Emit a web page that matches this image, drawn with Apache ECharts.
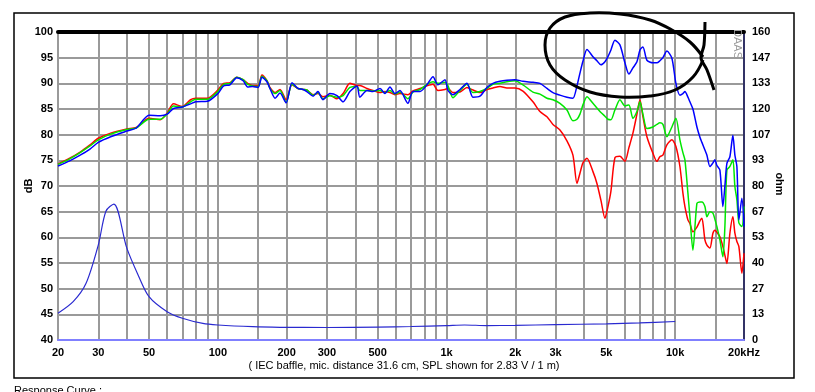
<!DOCTYPE html>
<html><head><meta charset="utf-8">
<script src="https://cdn.jsdelivr.net/npm/echarts@6/dist/echarts.min.js"></script>
<style>html,body{margin:0;padding:0;background:#fff}#c{width:815px;height:392px}</style>
</head><body><div id="c"></div>
<script>
const freqs = [20,22.5,25,27.6,30,34,40,44,50,56,60,64,70,76,80,90,100,106,113,121,129,135,142,150,156,164,169,178,187,199,211,224,236,245,261,274,288,309,332,353,378,406,418,449,477,512,538,566,595,626,678,713,766,821,873,917,985,1015,1067,1145,1229,1305,1400,1502,1596,1713,1838,1992,2159,2388,2563,2750,2921,3134,3363,3572,3720,3834,3951,4114,4370,4549,4736,4931,5082,5237,5452,5734,6029,6278,6536,6805,7014,7228,7525,7991,8318,8575,8838,9201,9676,10076,10490,10812,11033,11371,11601,11956,12449,12831,13092,13493,13768,14190,14625,14922,15225,15691,16172,16500,16836,17352,17883,18247,18618,18996,19578,20000];
const splBlue = [73.9,74.9,76.0,77.2,78.5,79.6,80.7,81.3,83.8,83.7,84.0,85.1,85.4,86.0,86.4,86.5,88.0,89.5,89.7,91.1,90.5,89.3,89.4,89.2,91.2,90.3,89.0,87.1,88.1,86.2,90.1,89.0,88.8,88.4,87.5,88.4,86.8,88.0,87.6,86.4,88.4,89.5,87.3,88.6,88.4,89.0,88.0,89.3,88.0,88.6,86.1,88.4,88.4,89.7,91.3,89.7,90.7,88.6,87.8,88.8,90.0,87.3,87.5,89.2,90.0,90.4,90.6,90.7,90.4,90.2,90.0,89.0,88.2,87.7,87.3,87.1,89.5,92.0,94.3,96.6,95.2,94.4,93.6,94.2,95.2,96.5,98.4,97.5,94.0,91.8,93.0,94.2,96.5,97.1,94.5,94.0,94.0,94.4,95.0,96.3,94.9,90.0,87.7,88.0,88.4,87.3,86.4,85.0,81.5,79.5,78.5,77.0,76.0,73.8,74.5,75.1,74.0,73.1,66.0,70.0,74.4,75.7,79.9,76.0,73.8,63.4,67.6,62.1];
const splGreen = [74.2,75.3,76.5,77.8,79.0,80.1,81.0,81.3,83.0,83.0,84.0,85.6,85.4,86.4,86.9,86.9,88.4,89.8,90.0,91.2,90.7,89.8,89.5,89.4,91.4,90.5,89.0,88.0,88.6,86.3,89.8,89.0,88.8,88.7,87.7,88.2,87.0,87.6,87.3,87.6,89.2,89.4,88.6,88.6,88.5,88.6,88.2,88.6,87.9,88.3,87.0,88.3,88.8,89.8,90.3,90.0,90.2,89.5,87.2,88.6,89.8,88.2,88.4,89.0,89.8,90.0,90.3,90.5,89.7,88.3,87.9,87.1,86.8,86.1,84.8,82.7,83.0,84.0,85.8,87.4,86.1,85.2,84.3,83.6,83.0,82.9,84.8,86.8,85.6,85.8,83.2,84.5,86.4,84.0,81.2,81.5,82.0,82.3,82.0,79.6,81.5,83.2,79.0,76.5,75.1,68.6,64.0,57.5,66.6,66.9,66.9,66.0,64.0,65.0,64.7,63.5,62.1,59.5,56.2,62.1,73.1,73.8,75.1,69.9,67.3,62.8,62.1,66.0];
const splRed = [74.3,75.4,76.6,78.0,79.3,80.3,81.1,81.4,83.2,82.9,84.2,86.0,85.5,86.8,87.1,87.1,88.7,90.0,90.1,91.2,90.7,90.0,89.6,89.6,91.6,90.5,89.2,88.2,88.8,86.8,89.7,89.0,88.8,88.7,87.8,88.0,87.4,87.7,87.0,88.0,90.0,89.6,89.6,89.0,88.6,88.2,88.4,88.2,87.8,88.0,87.8,88.5,89.0,89.5,89.8,88.6,88.8,89.0,88.2,88.3,89.2,88.7,88.2,88.8,89.1,89.4,89.1,89.1,88.5,86.4,84.5,83.5,82.0,80.9,78.8,76.0,70.5,72.5,74.5,75.4,72.8,70.5,67.2,63.7,66.0,69.0,75.5,75.8,74.8,77.5,80.3,84.0,86.8,83.5,79.6,76.4,74.8,75.7,76.0,78.0,79.0,77.7,73.8,68.6,66.0,63.4,62.7,61.1,62.0,63.2,63.7,59.5,58.5,57.9,60.8,61.4,61.0,60.1,58.2,56.5,54.9,60.8,64.0,60.8,59.2,58.2,53.0,56.9];
const impFreqs = [20,23.3,26.5,30,32.4,35.1,40,44.8,50,60,70,86,100,142,187,300,500,700,1000,1200,1500,2000,3000,5000,7000,10000];
const impOhm = [13.9,19.9,29.3,49.3,66.9,70.6,47.7,33.8,22.5,14.7,11.3,8.6,7.8,6.9,6.6,6.5,6.7,7.0,7.5,7.8,7.5,7.6,8.0,8.4,8.9,9.6];
const xTickLabels = [20,30,50,100,200,300,500,1000,2000,3000,5000,10000,20000];
const xGridFreqs = [20,30,40,50,60,70,80,90,100,150,200,300,400,500,600,700,800,900,1000,1500,2000,3000,4000,5000,6000,7000,8000,9000,10000,15000,20000];

const FONT = "'Liberation Sans', Arial, sans-serif";
const pair = (xs, ys) => xs.map((x, i) => [x, ys[i]]);
const chart = echarts.init(document.getElementById('c'), null, {renderer: 'canvas'});
const ellipse = [[703,57],[690,42],[672,30],[650,20],[620,14],[590,13],[565,17],[550,28],[545,45],[550,65],[565,80],[590,92],[620,97],[650,96],[675,90],[693,77],[703,60]];
const stroke = [[705,22],[704,45],[701,58],[707,70],[714,90]];
chart.setOption({
  animation: false,
  backgroundColor: '#fff',
  grid: {left: 58, right: 71, top: 32, bottom: 52, containLabel: false},
  xAxis: [{
    type: 'log', min: 20, max: 20000, logBase: 10,
    axisLine: {show: true, lineStyle: {color: '#8080ff', width: 2}},
    axisTick: {show: false, customValues: xGridFreqs},
    splitLine: {show: true, lineStyle: {color: '#9a9a9a', width: 2}},
    axisLabel: {customValues: xTickLabels, margin: 7, color: '#000', fontFamily: FONT, fontWeight: 'bold', fontSize: 11,
      formatter: v => v >= 20000 ? '20kHz' : (v >= 1000 ? (v/1000) + 'k' : String(v))}
  }, {
    type: 'log', min: 20, max: 20000, position: 'top',
    axisLine: {show: true, lineStyle: {color: '#000', width: 4}},
    axisTick: {show: false}, axisLabel: {show: false}, splitLine: {show: false}
  }],
  yAxis: [{
    type: 'value', min: 40, max: 100, interval: 5, position: 'left',
    axisLine: {show: true, lineStyle: {color: '#9a9a9a', width: 2}},
    axisTick: {show: false},
    splitLine: {show: true, lineStyle: {color: '#9a9a9a', width: 2}},
    axisLabel: {margin: 5, color: '#000', fontFamily: FONT, fontWeight: 'bold', fontSize: 11}
  }, {
    type: 'value', min: 0, max: 160, interval: 160/12, position: 'right',
    axisLine: {show: true, lineStyle: {color: '#333366', width: 2}},
    axisTick: {show: false}, splitLine: {show: false},
    axisLabel: {margin: 8, color: '#000', fontFamily: FONT, fontWeight: 'bold', fontSize: 11,
      formatter: v => String(Math.round(v))}
  }],
  series: [
    {type: 'line', name: 'impedance', yAxisIndex: 1, data: pair(impFreqs, impOhm), showSymbol: false, smooth: 0.3,
      lineStyle: {color: '#2a2ad0', width: 1.2}, z: 3},
    {type: 'line', name: 'red', data: pair(freqs, splRed), showSymbol: false, smooth: 0.25,
      lineStyle: {color: '#ff0000', width: 1.5}, z: 4},
    {type: 'line', name: 'green', data: pair(freqs, splGreen), showSymbol: false, smooth: 0.25,
      lineStyle: {color: '#00e600', width: 1.5}, z: 5},
    {type: 'line', name: 'blue', data: pair(freqs, splBlue), showSymbol: false, smooth: 0.25,
      lineStyle: {color: '#0000ff', width: 1.5}, z: 6}
  ],
  graphic: [
    {type: 'rect', shape: {x: 14, y: 13, width: 780, height: 365}, style: {fill: 'none', stroke: '#000', lineWidth: 1.5}, z: 1, silent: true},
    {type: 'text', x: 29, y: 186, rotation: Math.PI/2, style: {text: 'dB', font: "bold 11px " + FONT, fill: '#000', textAlign: 'center', textVerticalAlign: 'middle'}},
    {type: 'text', x: 779, y: 184, rotation: -Math.PI/2, style: {text: 'ohm', font: "bold 11px " + FONT, fill: '#000', textAlign: 'center', textVerticalAlign: 'middle'}},
    {type: 'text', x: 737, y: 44, rotation: -Math.PI/2, z: 10, style: {text: 'DAAS', font: "11px " + FONT, fill: '#999', textAlign: 'center', textVerticalAlign: 'middle'}},
    {type: 'text', x: 404, y: 366, style: {text: '( IEC baffle, mic. distance 31.6 cm, SPL shown for 2.83 V / 1 m)', font: "11px " + FONT, fill: '#000', textAlign: 'center', textVerticalAlign: 'middle'}},
    {type: 'text', x: 14, y: 391, style: {text: 'Response Curve :', font: "11px " + FONT, fill: '#000', textAlign: 'left', textVerticalAlign: 'middle'}},
    {type: 'polyline', shape: {points: ellipse, smooth: 0.4}, style: {stroke: '#000', lineWidth: 3, fill: 'none'}, z: 20},
    {type: 'polyline', shape: {points: stroke, smooth: 0.3}, style: {stroke: '#000', lineWidth: 3, fill: 'none'}, z: 20}
  ]
});
</script></body></html>
